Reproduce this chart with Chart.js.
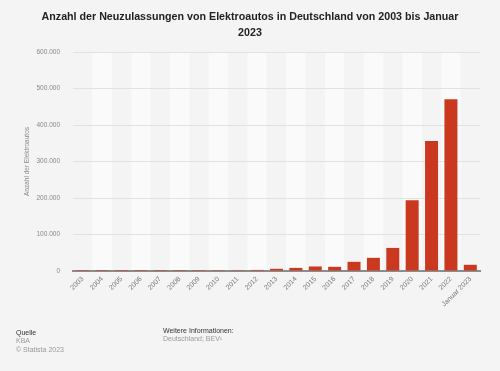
<!DOCTYPE html>
<html>
<head>
<meta charset="utf-8">
<script src="https://cdn.jsdelivr.net/npm/chart.js@4"></script>
<style>
  html, body { margin: 0; padding: 0; background: #f4f4f4; }
  #wrap { position: relative; width: 500px; height: 371px; }
  .foot { position: absolute; font-family: "Liberation Sans", Arial, sans-serif; font-size: 7px; line-height: 8.3px; }
  .foot .head { color: #333; }
  .foot .sub { color: #999; }
</style>
</head>
<body>
<div id="wrap">
  <canvas id="evChart" width="500" height="371"></canvas>
  <div class="foot" style="left:16px; top:329px;">
    <div class="head">Quelle</div>
    <div class="sub">KBA</div>
    <div class="sub">© Statista 2023</div>
  </div>
  <div class="foot" style="left:163px; top:327px;">
    <div class="head">Weitere Informationen:</div>
    <div class="sub">Deutschland; BEV¹</div>
  </div>
</div>
<script>
// Neuzulassungen Elektroautos (BEV)
const labels = ["2003", "2004", "2005", "2006", "2007", "2008", "2009", "2010", "2011", "2012",
  "2013", "2014", "2015", "2016", "2017", "2018", "2019", "2020", "2021", "2022", "Januar 2023"];
const registrations = [20, 20, 20, 20, 10, 40, 160, 540, 2150, 2960,
  6050, 8520, 12360, 11410, 25060, 36060, 63280, 194160, 355960, 470560, 17000];
const yTicks = [0, 100000, 200000, 300000, 400000, 500000, 600000];

const fontFamily = '"Liberation Sans", Arial, sans-serif';

function formatDe(v) {
  return String(v).replace(/\B(?=(\d{3})+(?!\d))/g, ".");
}

// helle Streifen hinter jeder zweiten Kategorie
const stripes = {
  id: "stripes",
  beforeDraw(chart) {
    const { ctx, chartArea, scales } = chart;
    const x = scales.x;
    const w = (chartArea.right - chartArea.left) / labels.length;
    ctx.save();
    ctx.fillStyle = "#fafafa";
    labels.forEach((l, i) => {
      if (i % 2 === 1) {
        const cx = x.getPixelForValue(i);
        ctx.fillRect(cx - w / 2, chartArea.top, w, chartArea.bottom - chartArea.top);
      }
    });
    ctx.restore();
  }
};

new Chart(document.getElementById("evChart").getContext("2d"), {
  type: "bar",
  data: {
    labels: labels,
    datasets: [{
      label: "Anzahl der Elektroautos",
      data: registrations,
      backgroundColor: "#c9381f",
      barPercentage: 0.67,
      categoryPercentage: 1
    }]
  },
  options: {
    responsive: false,
    animation: false,
    layout: { padding: 0 },
    plugins: {
      legend: { display: false },
      tooltip: { enabled: false },
      title: {
        display: true,
        text: ["Anzahl der Neuzulassungen von Elektroautos in Deutschland von 2003 bis Januar", "2023"],
        color: "#222",
        font: { family: fontFamily, size: 10.7, weight: "bold", lineHeight: "16px" },
        padding: { top: 9, bottom: 11 }
      }
    },
    scales: {
      x: {
        grid: { display: false, drawTicks: false },
        border: { display: true, color: "#8c8c8c", width: 2 },
        ticks: {
          color: "#777",
          font: { family: fontFamily, size: 7 },
          minRotation: 45,
          maxRotation: 45,
          autoSkip: false,
          padding: 4
        },
        afterFit(scale) { scale.height = 100; }
      },
      y: {
        min: 0,
        max: 600000,
        afterBuildTicks(scale) { scale.ticks = yTicks.map(v => ({ value: v })); },
        grid: { color: "#e2e2e2", lineWidth: 1, drawTicks: false },
        border: { display: false },
        ticks: {
          color: "#888",
          font: { family: fontFamily, size: 6.5 },
          padding: 13,
          callback: v => formatDe(v)
        },
        title: {
          display: true,
          text: "Anzahl der Elektroautos",
          color: "#888",
          font: { family: fontFamily, size: 6.5, lineHeight: 1.2 },
          padding: { top: 23, bottom: 0 }
        },
        afterFit(scale) { scale.width = 73; }
      },
      // leerer Rand rechts, damit der Titel mittig bleibt
      yRight: {
        position: "right",
        grid: { display: false, drawTicks: false },
        border: { display: false },
        ticks: { display: false },
        afterFit(scale) { scale.width = 20; }
      }
    }
  },
  plugins: [stripes]
});
</script>
</body>
</html>
